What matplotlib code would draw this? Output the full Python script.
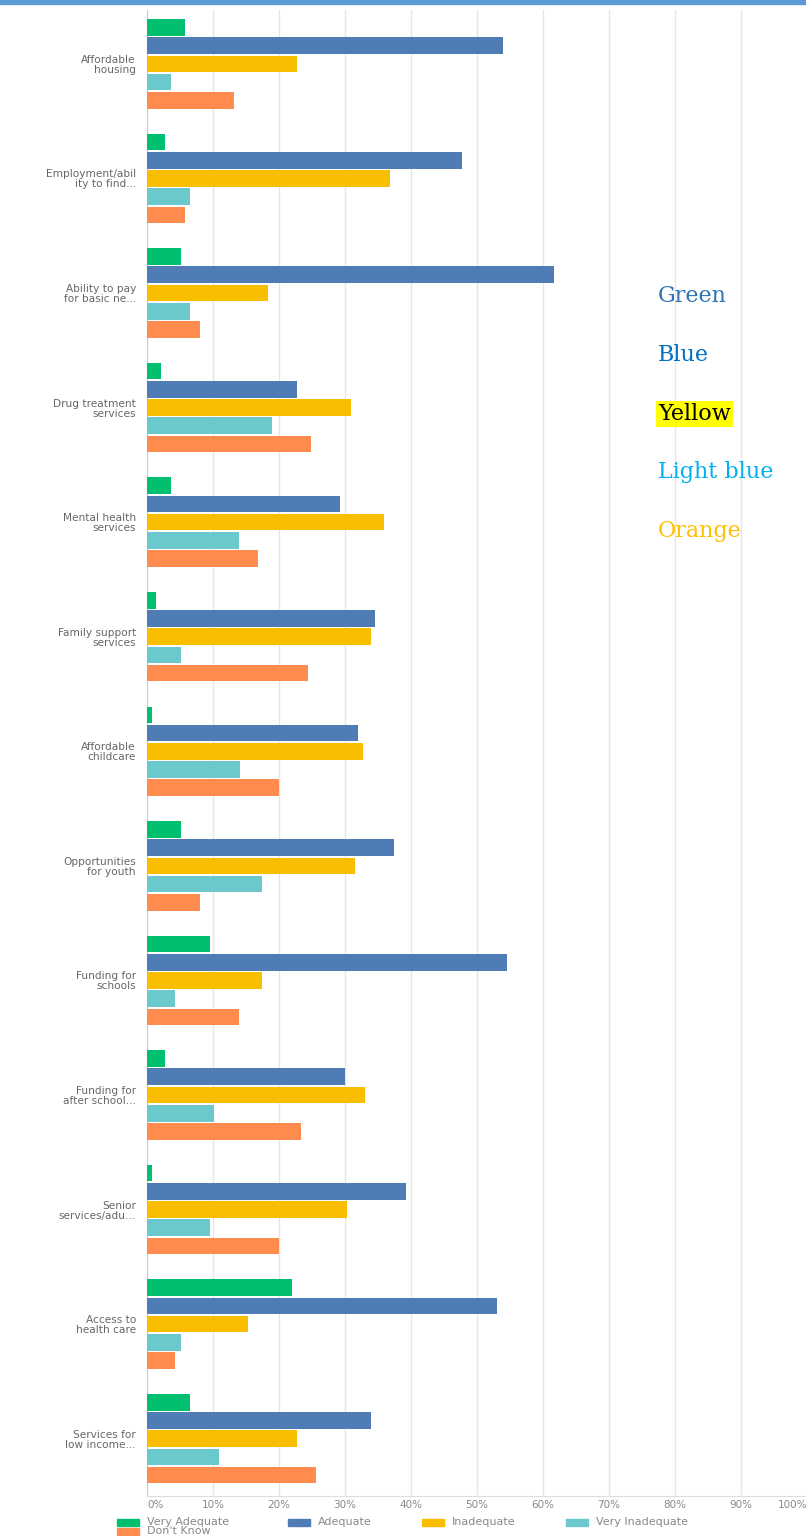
import matplotlib.pyplot as plt
import matplotlib.patches as mpatches
import numpy as np

categories = [
    'Affordable\nhousing', 'Employment/abil\nity to find...', 'Ability to pay\nfor basic ne...',
    'Drug treatment\nservices', 'Mental health\nservices', 'Family support\nservices',
    'Affordable\nchildcare', 'Opportunities\nfor youth', 'Funding for\nschools',
    'Funding for\nafter school...', 'Senior\nservices/adu...', 'Access to\nhealth care',
    'Services for\nlow income...',
]
series_names = ['Very Adequate', 'Adequate', 'Inadequate', 'Very Inadequate', "Don't Know"]

very_adequate = [5.7, 2.7, 5.1, 2.1, 3.6, 1.4, 0.8, 5.1, 9.5, 2.7, 0.8, 21.9, 6.5]
adequate = [53.9, 47.7, 61.6, 22.7, 29.3, 34.6, 31.9, 37.4, 54.5, 30.0, 39.3, 53.0, 33.9]
inadequate = [22.8, 36.8, 18.3, 30.9, 35.9, 34.0, 32.8, 31.5, 17.4, 33.0, 30.3, 15.3, 22.7]
very_inadequate = [3.6, 6.5, 6.5, 18.9, 13.9, 5.1, 14.1, 17.4, 4.2, 10.1, 9.5, 5.1, 10.9]
dont_know = [13.2, 5.7, 8.0, 24.8, 16.8, 24.4, 20.0, 8.0, 13.9, 23.3, 20.0, 4.2, 25.6]

colors = ['#00BF6F', '#507CB6', '#F9BE00', '#6BC8CD', '#FF8B4F']
xticks = list(range(0, 101, 10))

note_words = ['Green', 'Blue', 'Yellow', 'Light blue', 'Orange']
note_colors = ['#2E74B5', '#0070C0', '#000000', '#00B0F0', '#FFC000']

W, H = 806, 1536
fig = plt.figure(figsize=(W / 100, H / 100), dpi=100)
ax = fig.add_axes([147 / W, 1 - 1496 / H, 660 / W, 1486 / H])

data = [very_adequate, adequate, inadequate, very_inadequate, dont_know]
y = np.arange(len(categories))
step = 0.159
for k, (vals, col, name) in enumerate(zip(data, colors, series_names)):
    ax.barh(y + (k - 2) * step, vals, height=0.145, color=col, label=name, zorder=3)

ax.set_xlim(0, 100)
ax.set_ylim(12.5, -0.47)
ax.set_xticks(xticks)
ax.set_xticklabels([])
for t in xticks:
    ha = 'left' if t == 0 else ('right' if t == 100 else 'center')
    ax.annotate(f'{t}%', (t, 0), xycoords=ax.get_xaxis_transform(), xytext=(0, -6.5),
                textcoords='offset points', ha=ha, va='center', fontsize=7.5, color='#888888')
ax.tick_params(axis='x', length=0)
ax.set_yticks(y)
ax.set_yticklabels(categories, fontsize=7.6, color='#666666', linespacing=1.0)
ax.tick_params(axis='y', length=0, pad=8)

ax.grid(axis='x', color='#e6e6e6', linewidth=1.0, zorder=0)
for s in ['top', 'right']:
    ax.spines[s].set_visible(False)
ax.spines['left'].set_color('#cccccc')
ax.spines['bottom'].set_color('#dddddd')

# legend drawn by hand, row by row like the original
leg_pos = [(117, 1522), (288, 1522), (422, 1522), (566, 1522), (117, 1531)]
for (lx, ly), col, name in zip(leg_pos, colors, series_names):
    fig.patches.append(mpatches.Rectangle((lx / W, 1 - (ly + 3.5) / H), 22 / W, 7 / H,
                                          transform=fig.transFigure, color=col))
    fig.text((lx + 30) / W, 1 - ly / H, name, fontsize=8, color='#888888',
             ha='left', va='center')

# blue band at the top
fig.patches.append(mpatches.Rectangle((0, 1 - 4 / H), 1, 4 / H, transform=fig.transFigure,
                                      color='#5B9BD5', zorder=5))

for i, (w, c) in enumerate(zip(note_words, note_colors)):
    kw = {}
    if w == 'Yellow':
        kw['bbox'] = dict(facecolor='#FFFF00', edgecolor='none', pad=1.5)
    fig.text(658 / W, 1 - (296 + i * 58.8) / H, w, color=c, fontsize=16,
             family='DejaVu Serif', va='center', ha='left', **kw)

fig.savefig('out.png', dpi=100)
